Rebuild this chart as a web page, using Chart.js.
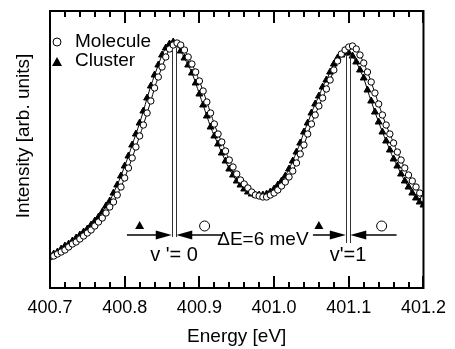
<!DOCTYPE html>
<html lang="en">
<head>
<meta charset="UTF-8">
<title>Molecule vs Cluster spectrum</title>
<style>
  * { margin: 0; padding: 0; box-sizing: border-box; }
  body { background: #fff; }
  .wrap { width: 455px; height: 349px; }
</style>
</head>
<body>
<div class="wrap"><canvas id="spectrum" width="455" height="349"></canvas></div>

<script src="https://cdn.jsdelivr.net/npm/chart.js"></script>
<script>
// photon energy in eV (measured grid)
const energy = [
  400.700, 400.705, 400.710, 400.715, 400.720, 400.725, 400.730, 400.735, 400.740, 400.745,
  400.750, 400.755, 400.760, 400.765, 400.770, 400.775, 400.780, 400.785, 400.790, 400.795,
  400.800, 400.805, 400.810, 400.815, 400.820, 400.825, 400.830, 400.835, 400.840, 400.845,
  400.850, 400.855, 400.860, 400.865, 400.870, 400.875, 400.880, 400.885, 400.890, 400.895,
  400.900, 400.905, 400.910, 400.915, 400.920, 400.925, 400.930, 400.935, 400.940, 400.945,
  400.950, 400.955, 400.960, 400.965, 400.970, 400.975, 400.980, 400.985, 400.990, 400.995,
  401.000, 401.005, 401.010, 401.015, 401.020, 401.025, 401.030, 401.035, 401.040, 401.045,
  401.050, 401.055, 401.060, 401.065, 401.070, 401.075, 401.080, 401.085, 401.090, 401.095,
  401.100, 401.105, 401.110, 401.115, 401.120, 401.125, 401.130, 401.135, 401.140, 401.145,
  401.150, 401.155, 401.160, 401.165, 401.170, 401.175, 401.180, 401.185, 401.190, 401.195,
  401.200
];

// intensity, arb. units
const molecule = [
  31, 32, 34, 36, 38, 41, 44, 46, 49, 52,
  55, 58, 62, 66, 70, 75, 81, 86, 93, 101,
  110, 120, 130, 141, 152, 163, 175, 187, 200, 211,
  221, 231, 239, 243, 245, 243, 238, 231, 224, 216,
  207, 197, 186, 175, 164, 154, 146, 137, 128, 121,
  114, 108, 104, 100, 96, 93, 92, 91, 91, 93,
  95, 98, 102, 106, 111, 117, 125, 134, 143, 154,
  164, 173, 182, 190, 199, 208, 218, 227, 234, 238,
  241, 242, 239, 233, 225, 216, 206, 195, 184, 173,
  163, 154, 145, 136, 128, 120, 113, 107, 101, 95,
  89
];

const cluster = [
  33, 34, 36, 39, 42, 44, 47, 50, 53, 56,
  59, 63, 67, 71, 76, 82, 87, 95, 103, 112,
  122, 132, 143, 154, 165, 177, 190, 202, 213, 223,
  233, 240, 244, 246, 243, 237, 230, 223, 215, 205,
  194, 183, 172, 161, 152, 144, 135, 127, 119, 113,
  107, 103, 99, 96, 94, 93, 93, 93, 94, 96,
  99, 103, 107, 112, 119, 127, 136, 145, 156, 165,
  175, 184, 192, 201, 208, 216, 224, 230, 233, 235,
  235, 232, 226, 218, 210, 198, 187, 176, 166, 156,
  147, 138, 129, 122, 114, 107, 101, 95, 90, 86,
  83
];

// axis tick positions (eV): labelled and minor
const majorTicks = [400.7, 400.8, 400.9, 401.0, 401.1, 401.2];
const minorStep = 0.02;

// peak positions (eV) for the double vertical lines, v'=0 and v'=1
const peakCluster = [400.863, 401.096];
const peakMolecule = [400.869, 401.102];
const peakTop = [240, 234];
const peakBottom = [51, 45];
const peakLabels = ["v '= 0", "v'=1"];

// arrows pointing at the peak lines: [from eV, to eV]
const arrows = [[400.803, 400.863], [400.931, 400.869], [401.052, 401.096], [401.164, 401.102]];
const arrowSymbols = [['triangle', 400.820], ['circle', 400.907], ['triangle', 401.060], ['circle', 401.144]];

const FONT = "'Liberation Sans', Arial, Helvetica, sans-serif";
Chart.defaults.font.family = FONT;
Chart.defaults.color = '#000';

const pts = (ys) => energy.map((e, i) => ({ x: e, y: ys[i] }));

const decorations = {
  id: 'decorations',
  afterDraw(chart) {
    const { ctx, chartArea: a, scales: { x, y } } = chart;
    ctx.save();
    ctx.strokeStyle = '#000';
    ctx.fillStyle = '#000';

    // frame
    ctx.lineWidth = 2;
    ctx.strokeRect(a.left, a.top, a.right - a.left, a.bottom - a.top);

    // inward ticks, top and bottom
    for (let v = majorTicks[0]; v <= majorTicks[majorTicks.length - 1] + 1e-6; v += minorStep) {
      const px = Math.round(x.getPixelForValue(v));
      const isMajor = majorTicks.some(m => Math.abs(m - v) < 1e-4);
      const len = isMajor ? 12 : 6;
      ctx.fillRect(px - 1, a.bottom - len, 2, len);
      ctx.fillRect(px - 1, a.top, 2, len);
    }

    // double vertical lines at the peaks
    ctx.lineWidth = 1;
    ctx.strokeStyle = '#333';
    for (let i = 0; i < 2; i++) {
      [peakCluster[i], peakMolecule[i]].forEach(e => {
        const px = Math.round(x.getPixelForValue(e)) + 0.5;
        ctx.beginPath();
        ctx.moveTo(px, y.getPixelForValue(peakTop[i]));
        ctx.lineTo(px, y.getPixelForValue(peakBottom[i]));
        ctx.stroke();
      });
    }

    // arrows
    ctx.strokeStyle = '#000';
    ctx.lineWidth = 1.5;
    const ay = y.getPixelForValue(53);
    arrows.forEach(([from, to]) => {
      const x0 = x.getPixelForValue(from), x1 = x.getPixelForValue(to);
      const dir = Math.sign(x1 - x0);
      ctx.beginPath();
      ctx.moveTo(x0, ay); ctx.lineTo(x1 - dir * 12, ay);
      ctx.stroke();
      ctx.beginPath();
      ctx.moveTo(x1, ay);
      ctx.lineTo(x1 - dir * 16, ay - 4.5);
      ctx.lineTo(x1 - dir * 16, ay + 4.5);
      ctx.closePath();
      ctx.fill();
    });

    // small symbols over the arrows
    arrowSymbols.forEach(([style, e]) => {
      const px = x.getPixelForValue(e), py = y.getPixelForValue(62);
      if (style === 'circle') {
        ctx.lineWidth = 1;
        ctx.beginPath();
        ctx.arc(px, py, 5, 0, Math.PI * 2);
        ctx.fillStyle = '#fff';
        ctx.fill();
        ctx.stroke();
        ctx.fillStyle = '#000';
      } else {
        ctx.beginPath();
        ctx.moveTo(px, py - 5);
        ctx.lineTo(px + 4.5, py + 3);
        ctx.lineTo(px - 4.5, py + 3);
        ctx.closePath();
        ctx.fill();
      }
    });

    // texts
    ctx.textAlign = 'center';
    ctx.textBaseline = 'middle';
    ctx.font = '20px ' + FONT;
    peakLabels.forEach((t, i) => {
      const px = x.getPixelForValue((peakCluster[i] + peakMolecule[i]) / 2);
      ctx.fillText(t, px, y.getPixelForValue(33));
    });
    ctx.font = '19px ' + FONT;
    ctx.fillText('\u0394E=6 meV', x.getPixelForValue(400.985), y.getPixelForValue(48));

    // legend
    ctx.textAlign = 'left';
    ctx.font = '19px ' + FONT;
    ctx.lineWidth = 1;
    ctx.beginPath();
    ctx.arc(a.left + 7, a.top + 31, 4, 0, Math.PI * 2);
    ctx.stroke();
    ctx.fillText('Molecule', a.left + 25, a.top + 31);
    ctx.beginPath();
    ctx.moveTo(a.left + 7, a.top + 46);
    ctx.lineTo(a.left + 12, a.top + 55);
    ctx.lineTo(a.left + 2, a.top + 55);
    ctx.closePath();
    ctx.fill();
    ctx.fillText('Cluster', a.left + 25, a.top + 50);

    // y axis title
    ctx.translate(24, 136);
    ctx.rotate(-Math.PI / 2);
    ctx.textAlign = 'center';
    ctx.font = '19px ' + FONT;
    ctx.fillText('Intensity [arb. units]', 0, 0);
    ctx.restore();
  }
};

new Chart(document.getElementById('spectrum'), {
  type: 'scatter',
  data: {
    datasets: [
      {
        label: 'Molecule',
        data: pts(molecule),
        showLine: true,
        tension: 0.3,
        borderColor: '#000',
        borderWidth: 1,
        pointStyle: 'circle',
        pointRadius: 3.2,
        pointBackgroundColor: '#fff',
        pointBorderColor: '#000',
        pointBorderWidth: 1
      },
      {
        label: 'Cluster',
        data: pts(cluster),
        showLine: true,
        tension: 0.3,
        borderColor: '#000',
        borderWidth: 1,
        pointStyle: 'triangle',
        pointRadius: 4,
        pointBackgroundColor: '#000',
        pointBorderColor: '#000',
        pointBorderWidth: 1
      }
    ]
  },
  options: {
    responsive: false,
    animation: false,
    layout: { padding: { top: 11, right: 29, left: 0, bottom: 0 } },
    plugins: { legend: { display: false }, tooltip: { enabled: false } },
    scales: {
      x: {
        type: 'linear',
        min: 400.7,
        max: 401.2,
        grid: { display: false, drawTicks: false },
        border: { display: false },
        ticks: {
          stepSize: 0.1,
          padding: 9,
          font: { size: 18 },
          color: '#000',
          callback: v => v.toFixed(1)
        },
        title: {
          display: true,
          text: 'Energy [eV]',
          font: { size: 19 },
          color: '#000',
          padding: { top: 0, bottom: 1 }
        },
        afterFit: s => { s.height = 61; }
      },
      y: {
        min: 0,
        max: 277,
        grid: { display: false, drawTicks: false },
        border: { display: false },
        ticks: { display: false },
        afterFit: s => { s.width = 50; }
      }
    }
  },
  plugins: [decorations]
});
</script>
</body>
</html>
